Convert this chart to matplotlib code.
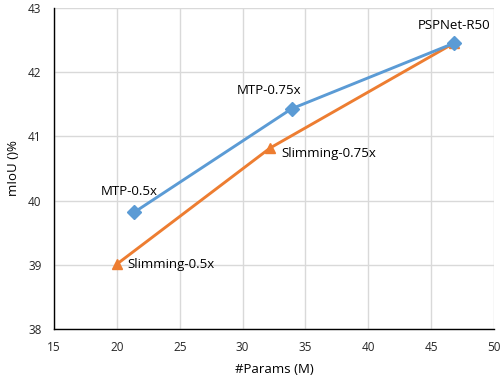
import matplotlib.pyplot as plt

plt.rcParams['font.family'] = ['Open Sans', 'DejaVu Sans']

# Data
mtp_params = [21.4, 33.9, 46.8]
mtp_miou = [39.82, 41.43, 42.45]
mtp_labels = ['MTP-0.5x', 'MTP-0.75x', 'PSPNet-R50']

slim_params = [20.0, 32.2, 46.8]
slim_miou = [39.01, 40.82, 42.45]
slim_labels = ['Slimming-0.5x', 'Slimming-0.75x']

xticks = [15, 20, 25, 30, 35, 40, 45, 50]
yticks = [38, 39, 40, 41, 42, 43]

blue = '#5B9BD5'
orange = '#ED7D31'

fig = plt.figure(figsize=(5, 3.79), dpi=100)
ax = fig.add_axes([0.108, 0.132, 0.88, 0.847])

ax.plot(slim_params, slim_miou, color=orange, lw=2.1, marker='^',
        markersize=7.5, zorder=3)
ax.plot(mtp_params, mtp_miou, color=blue, lw=2.1, marker='D',
        markersize=7.5, zorder=4)

# Point labels (offsets in pixels)
mtp_offsets = [(-5, 21, 'center'), (-23, 18, 'center'), (0, 18, 'center')]
for x, y, lab, (dx, dy, ha) in zip(mtp_params, mtp_miou, mtp_labels,
                                   mtp_offsets):
    ax.annotate(lab, (x, y), xytext=(dx, dy), textcoords='offset pixels',
                ha=ha, va='center', fontsize=9.5, color='#000000')

slim_offsets = [(11, 0), (11, -6)]
for x, y, lab, (dx, dy) in zip(slim_params, slim_miou, slim_labels,
                               slim_offsets):
    ax.annotate(lab, (x, y), xytext=(dx, dy), textcoords='offset pixels',
                ha='left', va='center', fontsize=9.5, color='#000000')

ax.set_xlim(15, 50)
ax.set_ylim(38, 43)
ax.set_xticks(xticks)
ax.set_yticks(yticks)
ax.tick_params(axis='both', length=0, labelsize=8.5, pad=9,
               labelcolor='#262626')

ax.grid(True, color='#D9D9D9', lw=1)
ax.set_axisbelow(True)
for s in ['top', 'right']:
    ax.spines[s].set_visible(False)
for s in ['left', 'bottom']:
    ax.spines[s].set_color('#000000')
    ax.spines[s].set_linewidth(1)

ax.set_xlabel('#Params (M)', fontsize=9.5, labelpad=6)
ax.set_ylabel('mIoU ()%', fontsize=9.5, labelpad=6)

fig.savefig('out.png', dpi=100)
